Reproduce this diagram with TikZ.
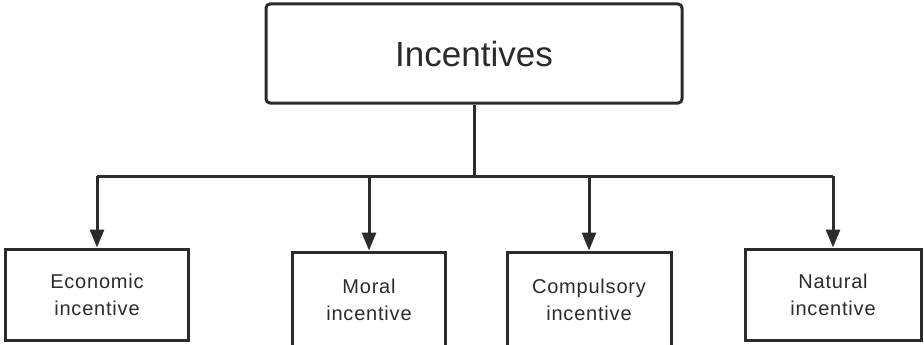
\documentclass[tikz,border=0pt]{standalone}
\usepackage{fontspec}
\setmainfont{Liberation Sans}
\newfontfamily\spaced[LetterSpace=4]{Liberation Sans}
\usetikzlibrary{arrows.meta}
\definecolor{ink}{HTML}{2B2B2B}
\begin{document}
\begin{tikzpicture}[x=1pt,y=-1pt,
  topbox/.style={draw=ink,line width=3pt,rounded corners=4pt,minimum width=416pt,minimum height=99pt,inner sep=0pt,font=\fontsize{35}{40}\selectfont,text=ink},
  subbox/.style={draw=ink,line width=3pt,minimum height=91pt,inner sep=0pt,align=center,font=\spaced\fontsize{20}{27}\selectfont,text=ink},
  conn/.style={draw=ink,line width=3pt},
  arr/.style={conn,-{Triangle[length=18pt,width=14pt]}}]
\clip (0,0) rectangle (924,345);
\node[topbox] (top) at (474,53.5) {Incentives};
\node[subbox,minimum width=183pt] (econ) at (97,294.5) {Economic\\incentive};
\node[subbox,minimum width=153pt,minimum height=96pt] (moral) at (369,300) {Moral\\incentive};
\node[subbox,minimum width=164pt,minimum height=96pt] (comp) at (589,300) {Compulsory\\incentive};
\node[subbox,minimum width=176pt] (nat) at (833,294.5) {Natural\\incentive};
\coordinate (bl) at (97,176);
\coordinate (br) at (833,176);
\draw[conn] (top.south) -- (top.south |- bl);
\draw[conn] (bl) -- (br);
\draw[arr] (bl) -- (econ.north);
\draw[arr] (moral.north |- bl) -- (moral.north);
\draw[arr] (comp.north |- bl) -- (comp.north);
\draw[arr] (br) -- (nat.north);
\end{tikzpicture}
\end{document}
